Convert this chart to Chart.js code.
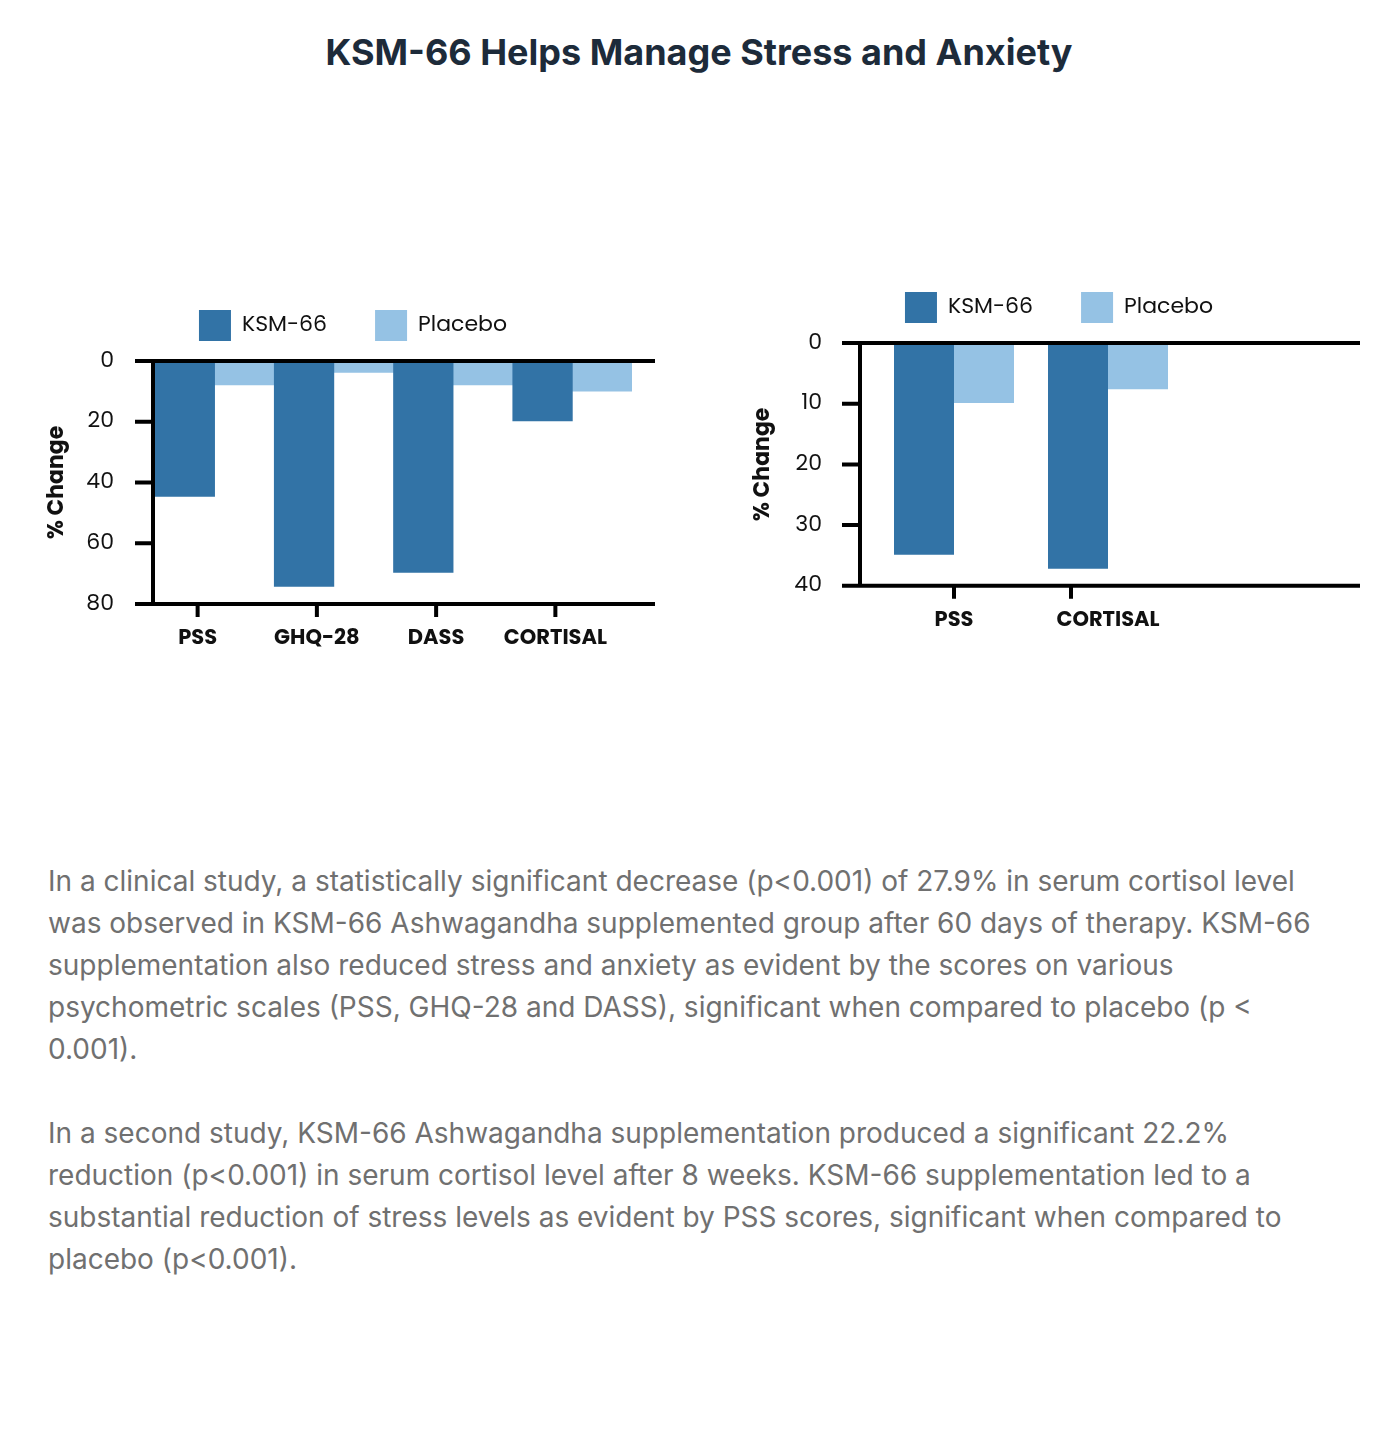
<!DOCTYPE html>
<html>
<head>
<meta charset="utf-8">
<script src="https://cdn.jsdelivr.net/npm/chart.js@4"></script>
<style>
  body { margin: 0; background: #fff; width: 1398px; height: 1436px; position: relative; font-family: Inter, sans-serif; }
  h1 { position: absolute; top: 30px; left: 0; width: 1398px; margin: 0; text-align: center; font-size: 36px; font-weight: 700; color: #1d2b3a; line-height: 44px; }
  .box { position: absolute; }
  #wrap1 { left: 40px; top: 262px; width: 626px; height: 402px; }
  #wrap2 { left: 740px; top: 244px; width: 638px; height: 410px; }
  .txt { position: absolute; left: 48px; width: 1285px; color: #707070; font-size: 28px; line-height: 42px; }
  .txt p { margin: 0 0 42px 0; }
</style>
</head>
<body>
<h1>KSM-66 Helps Manage Stress and Anxiety</h1>
<div class="box" id="wrap1"><canvas id="chart1"></canvas></div>
<div class="box" id="wrap2"><canvas id="chart2"></canvas></div>
<div class="txt" style="top: 860px;">
  <p>In a clinical study, a statistically significant decrease (p&lt;0.001) of 27.9% in serum cortisol level was observed in KSM-66 Ashwagandha supplemented group after 60 days of therapy. KSM-66 supplementation also reduced stress and anxiety as evident by the scores on various psychometric scales (PSS, GHQ-28 and DASS), significant when compared to placebo (p &lt; 0.001).</p>
  <p>In a second study, KSM-66 Ashwagandha supplementation produced a significant 22.2% reduction (p&lt;0.001) in serum cortisol level after 8 weeks. KSM-66 supplementation led to a substantial reduction of stress levels as evident by PSS scores, significant when compared to placebo (p&lt;0.001).</p>
</div>
<script>
// study 1
const labels1 = ['PSS', 'GHQ-28', 'DASS', 'CORTISAL'];
const ksm1 = [44.6, 74.2, 69.6, 19.7];
const placebo1 = [7.9, 3.8, 7.9, 9.9];
const ticks1 = [0, 20, 40, 60, 80];

// study 2
const labels2 = ['PSS', 'CORTISAL'];
const ksm2 = [34.9, 37.2];
const placebo2 = [9.9, 7.6];
const ticks2 = [0, 10, 20, 30, 40];

const darkBlue = 'rgb(50, 115, 166)';
const lightBlue = 'rgb(149, 194, 228)';
const chartFont = 'Poppins, "Noto Sans", sans-serif';

// a bit more room under the legend
const legendGap = {
  id: 'legendGap',
  afterInit(chart) {
    const fit = chart.legend.fit;
    chart.legend.fit = function () {
      fit.call(this);
      this.height += 10;
    };
  }
};

// draws the thick axis frame like the original graphic
const axisFrame = {
  id: 'axisFrame',
  afterDatasetsDraw(chart, args, opts) {
    const ctx = chart.ctx;
    const a = chart.chartArea;
    const y = chart.scales.y;
    const x = chart.scales.x;
    const ax = a.left - opts.axisGap;
    ctx.save();
    ctx.strokeStyle = '#000';
    ctx.lineWidth = 4;
    ctx.beginPath();
    // top and bottom lines
    ctx.moveTo(ax - 18, a.top); ctx.lineTo(opts.rightEnd, a.top);
    ctx.moveTo(ax - 18, a.bottom); ctx.lineTo(opts.rightEnd, a.bottom);
    // y axis
    ctx.moveTo(ax, a.top); ctx.lineTo(ax, a.bottom);
    // y ticks
    y.ticks.forEach(t => {
      const py = y.getPixelForValue(t.value);
      ctx.moveTo(ax - 18, py); ctx.lineTo(ax, py);
    });
    // x ticks
    x.ticks.forEach((t, i) => {
      const px = x.getPixelForTick(i) + opts.tickShift[i];
      ctx.moveTo(px, a.bottom); ctx.lineTo(px, a.bottom + 13);
    });
    ctx.stroke();
    ctx.restore();
  }
};

function makeChart(id, labels, ksm, placebo, tickVals, o) {
  return new Chart(document.getElementById(id), {
    type: 'bar',
    data: {
      labels: labels,
      datasets: [
        { label: 'KSM-66', data: ksm, backgroundColor: darkBlue },
        { label: 'Placebo', data: placebo, backgroundColor: lightBlue }
      ]
    },
    options: {
      responsive: true,
      maintainAspectRatio: false,
      animation: false,
      datasets: { bar: { categoryPercentage: o.catPct, barPercentage: 1 } },
      layout: { padding: 0 },
      plugins: {
        tooltip: { enabled: false },
        legend: {
          display: true,
          position: 'top',
          labels: {
            boxWidth: 32, boxHeight: 31, padding: 48,
            color: '#111',
            font: { family: chartFont, size: 22 }
          }
        },
        axisFrame: { axisGap: o.axisGap, rightEnd: o.rightEnd, tickShift: o.tickShift }
      },
      scales: {
        x: {
          afterFit: s => { s.height = 60; },
          grid: { display: false, drawTicks: false },
          border: { display: false },
          ticks: {
            padding: 22, labelOffset: o.labelOffset, maxRotation: 0,
            color: '#111',
            font: { family: chartFont, size: 21, weight: 'bold' }
          }
        },
        y: {
          reverse: true,
          min: tickVals[0],
          max: tickVals[tickVals.length - 1],
          afterBuildTicks: s => { s.ticks = tickVals.map(v => ({ value: v })); },
          afterFit: s => { s.width = o.yWidth; },
          grid: { display: false, drawTicks: false },
          border: { display: false },
          ticks: {
            padding: o.yPad,
            color: '#111',
            font: { family: chartFont, size: 22 }
          },
          title: {
            display: true,
            text: '% Change',
            color: '#111',
            padding: { top: o.titlePad, bottom: 0 },
            font: { family: chartFont, size: 22, weight: 'bold' }
          }
        },
        // empty right-hand scale, only reserves space so the legend stays centred on the canvas
        yR: {
          position: 'right',
          afterFit: s => { s.width = o.rightWidth; },
          grid: { display: false, drawTicks: false },
          border: { display: false },
          ticks: { display: false }
        }
      }
    },
    plugins: [legendGap, axisFrame]
  });
}

makeChart('chart1', labels1, ksm1, placebo1, ticks1, {
  catPct: 1, yWidth: 115, rightWidth: 34, yPad: 41,
  axisGap: 2, rightEnd: 615, tickShift: [-17, -17, -17, -17], labelOffset: -17, titlePad: 4
});
makeChart('chart2', labels2, ksm2, placebo2, ticks2, {
  catPct: 120 / 154, yWidth: 137, rightWidth: 193, yPad: 55,
  axisGap: 17, rightEnd: 620, tickShift: [0, -37], labelOffset: 0, titlePad: 10
});
</script>
</body>
</html>
